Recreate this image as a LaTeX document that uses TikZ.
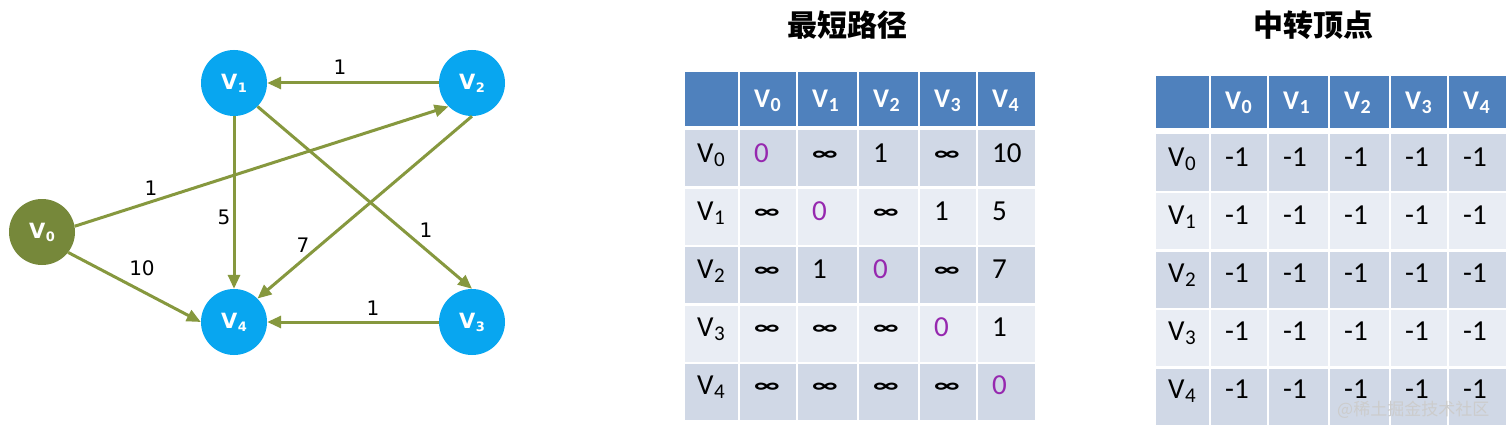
\documentclass[tikz,border=0pt]{standalone}
\usepackage{fontspec}
\setmainfont{Carlito}
\newfontfamily\dv{DejaVu Sans}
\newfontfamily\cjk{Noto Sans CJK SC}
\usetikzlibrary{arrows.meta}
\definecolor{nodeblue}{RGB}{8,166,240}
\definecolor{olivefill}{RGB}{118,136,58}
\definecolor{oliveline}{RGB}{134,152,62}
\definecolor{hdrblue}{RGB}{79,129,189}
\definecolor{rowdark}{RGB}{208,216,230}
\definecolor{rowlight}{RGB}{233,237,244}
\definecolor{zeropurple}{RGB}{150,40,175}
\newcommand\gv[1]{V\kern0.5pt\raisebox{-3pt}{\fontsize{13}{13}\selectfont #1}}
\newcommand\hv[1]{V\kern0.5pt\raisebox{-4pt}{\fontsize{20}{20}\selectfont #1}}
\newcommand\bv[1]{V\kern0.5pt\raisebox{-4pt}{\fontsize{21}{21}\selectfont #1}}
\newcommand\Zp{\textcolor{zeropurple}{0}}
\newcommand\Inf{\raisebox{1.5pt}{\scalebox{1.05}[0.72]{\bfseries ∞}}}
\begin{document}
\begin{tikzpicture}[x=1pt,y=-1pt,
 gnode/.style={circle, minimum size=66pt, inner sep=0pt, text=white, font=\dv\bfseries\fontsize{21}{21}\selectfont},
 bluenode/.style={gnode, fill=nodeblue},
 greennode/.style={gnode, fill=olivefill},
 edge/.style={draw=oliveline, line width=3pt, -{Triangle[length=14pt,width=12pt]}},
 wlabel/.style={font=\dv\fontsize{20}{20}\selectfont, inner sep=0pt},
 hdrtext/.style={anchor=base west, inner sep=0pt, text=white, font=\bfseries\fontsize{27}{27}\selectfont},
 celltext/.style={anchor=base west, inner sep=0pt, font=\fontsize{29}{29}\selectfont},
 titletext/.style={font=\cjk\bfseries\fontsize{30}{30}\selectfont, inner sep=0pt},
]
\useasboundingbox[fill=white] (0,0) rectangle (1512,433);

% graph
\node[greennode] (V0) at (42,232) {\gv{0}};
\node[bluenode] (V1) at (234,83) {\gv{1}};
\node[bluenode] (V2) at (472,83) {\gv{2}};
\node[bluenode] (V3) at (472,322) {\gv{3}};
\node[bluenode] (V4) at (234,322) {\gv{4}};

\draw[edge] (V2) -- (V1);
\draw[edge] (V3) -- (V4);
\draw[edge] (V1) -- (V4);
\draw[edge] (V1.-45) -- (V3.north);
\draw[edge] (V2.south) -- (V4.45);
\draw[edge] (V0.10) -- (V2.225);
\draw[edge] (V0.-38) -- (V4.west);

\node[wlabel] (w21) at (340,67) {1};
\node[wlabel] (w02) at (151,188) {1};
\node[wlabel] (w14) at (224,217) {5};
\node[wlabel] (w24) at (303,245) {7};
\node[wlabel] (w13) at (426,230) {1};
\node[wlabel] (w04) at (142,268) {10};
\node[wlabel] (w34) at (373,308) {1};

% titles
\node[titletext] (t1) at (847,25) {最短路径};
\node[titletext] (t2) at (1313,25) {中转顶点};

% table A backgrounds
\foreach \xa/\xb in {685/738,740/796,798/857,859/918,920/976,978/1035} {
  \fill[hdrblue] (\xa,72) rectangle (\xb,126);
  \foreach \r in {0,...,4} {
    \pgfmathsetmacro\rtop{130+58.5*\r}
    \ifodd\r \def\rc{rowlight}\else\def\rc{rowdark}\fi
    \fill[\rc] (\xa,\rtop) rectangle (\xb,{\rtop+56});
  }
}
% table B backgrounds
\foreach \xa/\xb in {1156/1209,1211/1267,1269/1328,1330/1389,1391/1447,1449/1506} {
  \fill[hdrblue] (\xa,76) rectangle (\xb,128);
  \foreach \r in {0,...,4} {
    \pgfmathsetmacro\rtop{134.5+58.5*\r}
    \ifodd\r \def\rc{rowlight}\else\def\rc{rowdark}\fi
    \fill[\rc] (\xa,\rtop) rectangle (\xb,{\rtop+56});
  }
}

% headers
\foreach \x/\s in {754/0,812/1,873/2,934/3,992/4}
  \node[hdrtext] (A-h\s) at (\x,108) {\hv{\s}};
\foreach \x/\s in {1225/0,1283/1,1344/2,1405/3,1463/4}
  \node[hdrtext] (B-h\s) at (\x,110) {\hv{\s}};

% table A body
\foreach \r/\va/\vb/\vc/\vd/\ve in {0/\Zp/\Inf/1/\Inf/10, 1/\Inf/\Zp/\Inf/1/5, 2/\Inf/1/\Zp/\Inf/7, 3/\Inf/\Inf/\Inf/\Zp/1, 4/\Inf/\Inf/\Inf/\Inf/\Zp} {
  \pgfmathsetmacro\bl{162+58*\r}
  \node[celltext] (A-\r-l) at (697,\bl) {\bv{\r}};
  \node[celltext] (A-\r-0) at (754,\bl) {\va};
  \node[celltext] (A-\r-1) at (812,\bl) {\vb};
  \node[celltext] (A-\r-2) at (873,\bl) {\vc};
  \node[celltext] (A-\r-3) at (934,\bl) {\vd};
  \node[celltext] (A-\r-4) at (992,\bl) {\ve};
}
% table B body
\foreach \r in {0,...,4} {
  \pgfmathsetmacro\bl{166+58*\r}
  \node[celltext] (B-\r-l) at (1168,\bl) {\bv{\r}};
  \foreach \x [count=\c from 0] in {1225,1283,1344,1405,1463}
    \node[celltext] (B-\r-\c) at (\x,\bl) {-1};
}

% watermark
\node[font=\cjk\fontsize{17}{17}\selectfont, text=gray!40, anchor=west, inner sep=0pt] (wm) at (1337,410) {@稀土掘金技术社区};
\end{tikzpicture}
\end{document}
